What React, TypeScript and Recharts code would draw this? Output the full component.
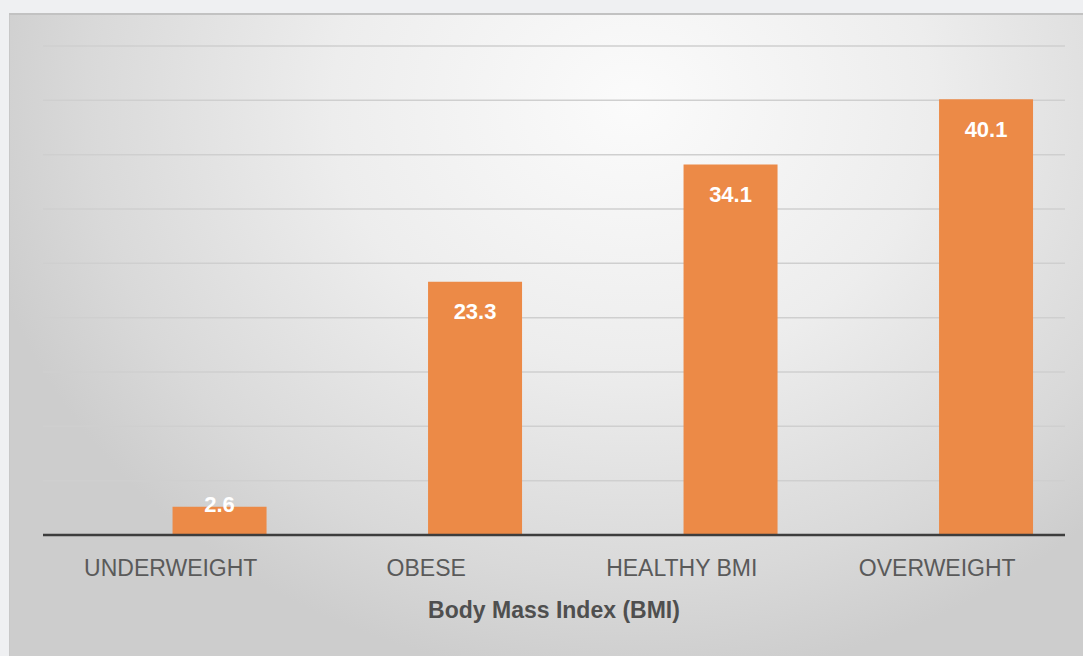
import React from 'react';
import {
  BarChart,
  Bar,
  XAxis,
  YAxis,
  CartesianGrid,
  LabelList,
  Label
} from 'recharts';

const categories = ['UNDERWEIGHT', 'OBESE', 'HEALTHY BMI', 'OVERWEIGHT'];
const values = [2.6, 23.3, 34.1, 40.1];
const yTicks = [0, 5, 10, 15, 20, 25, 30, 35, 40, 45];

const data = categories.map((cat, i) => ({ cat, idx: i, value: values[i] }));

const FONT = '"Liberation Sans", Arial, sans-serif';

const ValueLabel = (props: any) => {
  const vb = props.viewBox || {};
  const x = props.x ?? vb.x;
  const y = props.y ?? vb.y;
  const width = props.width ?? vb.width;
  const height = props.height ?? vb.height;
  // inside end; short bars push the label up over the bar top
  const cy = height > 60 ? y + 30 : y - 2;
  return (
    <text
      x={x + width / 2}
      y={cy}
      textAnchor="middle"
      dominantBaseline="central"
      fill="#ffffff"
      fontFamily={FONT}
      fontWeight="bold"
      fontSize={22}
    >
      {props.value}
    </text>
  );
};

const App: React.FC = () => {
  return (
    <div
      style={{
        position: 'absolute',
        left: 0,
        top: 0,
        width: 1083,
        height: 656,
        background: '#eff0f2',
        overflow: 'hidden'
      }}
    >
      <div
        style={{
          position: 'absolute',
          left: 9,
          top: 13,
          width: 1074,
          height: 643,
          background:
            'radial-gradient(ellipse 62% 90% at 58% 14%, #fbfbfb 0%, #ededed 45%, #d9d9d9 82%, #cdcdcd 100%)',
          boxShadow: 'inset 0 2px 0 #c2c2c2, inset 1px 0 0 #c8c8c8'
        }}
      >
        <BarChart
          width={1074}
          height={643}
          data={data}
          margin={{ top: 33, right: 18, left: 34, bottom: 21 }}
        >
          <CartesianGrid
            vertical={false}
            stroke="#cfcfcf"
            strokeWidth={1.5}
          />
          <YAxis hide domain={[0, 45]} ticks={yTicks} />
          <XAxis
            dataKey="cat"
            height={100}
            tickLine={false}
            tickSize={0}
            tickMargin={25}
            axisLine={{ stroke: '#3d3d3d', strokeWidth: 2.5 }}
            tick={{ fill: '#5a5a5a', fontSize: 23, fontFamily: FONT }}
            interval={0}
          >
            <Label
              value="Body Mass Index (BMI)"
              position="insideBottom"
              offset={17}
              fill="#4f4f4f"
              fontSize={23}
              fontWeight="bold"
              fontFamily={FONT}
            />
          </XAxis>
          <XAxis
            xAxisId="bar"
            type="number"
            dataKey="idx"
            domain={[-0.69, 3.31]}
            ticks={[0, 1, 2, 3]}
            allowDataOverflow
            hide
            height={0}
          />
          <Bar
            xAxisId="bar"
            dataKey="value"
            fill="#ec8a47"
            barSize={94}
            isAnimationActive={false}
          >
            <LabelList dataKey="value" content={ValueLabel} />
          </Bar>
        </BarChart>
      </div>
    </div>
  );
};

export default App;
